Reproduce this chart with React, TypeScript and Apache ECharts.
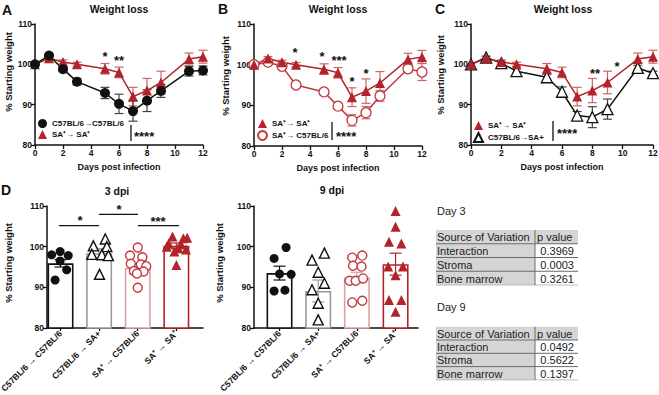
import React, { useEffect, useRef } from "react";
import * as echarts from "echarts";

// ---------- data ----------
const days = [0, 1, 2, 3, 5, 6, 7, 8, 9, 11, 12];

const b6ToB6Mean = [100, 102.2, 98.8, 95.7, 92.9, 90.2, 88.4, 91.0, 93.4, 98.3, 98.5];
const b6ToB6Err = [0, 0.3, 0.6, 0.8, 1.4, 2.4, 2.5, 2.7, 1.6, 1.2, 1.1];

const saToSaMean = [100, 101.5, 100.6, 100.0, 98.9, 98.0, 92.0, 93.5, 95.5, 101.3, 101.9];
const saToSaErr = [0, 0.5, 0.5, 0.5, 1.3, 1.3, 2.3, 3.0, 2.8, 1.5, 1.6];

const saToB6Mean = [100, 100.6, 99.6, 95.0, 93.3, 89.8, 86.3, 88.2, 92.3, 99.0, 98.2];
const saToB6Err = [0, 0.4, 0.5, 0.5, 0.5, 0.6, 1.4, 1.5, 1.3, 0.8, 2.1];

const b6ToSaMean = [100, 101.7, 100.3, 98.3, 96.8, 93.2, 87.3, 86.9, 88.9, 99.1, 97.8];
const b6ToSaErr = [0, 0.3, 0.5, 0.6, 0.7, 1.2, 1.0, 2.6, 2.5, 0.6, 0.5];

const groupLabels = ["C57BL/6 → C57BL/6", "C57BL/6 → SA+", "SA⁺ → C57BL/6", "SA⁺ → SA⁺"];

const d3Mean = [95.9, 98.4, 94.8, 100.2];
const d3Sem = [0.9, 1.1, 0.9, 0.7];
const d3B6B6 = [98.8, 98.0, 97.8, 96.5, 94.3, 91.8];
const d3B6Sa = [101.9, 100.2, 100.0, 98.1, 98.0, 97.8, 93.2];
const d3SaB6 = [99.8, 97.8, 97.4, 95.8, 95.6, 95.2, 94.0, 93.9, 93.4, 89.9];
const d3SaSa = [102.5, 102.1, 102.2, 100.8, 100.6, 100.0, 99.6, 99.3, 98.8, 95.5];

const d9Mean = [93.5, 89.1, 92.4, 95.7];
const d9Sem = [1.7, 2.7, 1.3, 2.7];
const d9B6B6 = [99.8, 97.1, 93.3, 93.2, 89.1, 89.3];
const d9B6Sa = [98.4, 96.7, 93.7, 91.0, 89.4, 86.1, 82.0];
const d9SaB6 = [97.3, 97.8, 95.3, 95.1, 91.6, 91.6, 92.2, 86.3, 86.7];
const d9SaSa = [108.8, 104.9, 101.2, 100.8, 95.1, 95.1, 93.0, 86.9, 86.9, 84.0];

// horizontal scatter offsets (category units) for the dot plots
const d3Jit = [
  [-0.01, -0.23, 0.2, -0.01, 0.16, -0.14],
  [0.16, -0.15, 0.2, -0.19, 0.07, 0.24, 0.01],
  [0.0, -0.2, 0.12, -0.18, 0.08, 0.22, -0.1, 0.15, -0.02, 0.0],
  [-0.1, 0.18, 0.28, -0.2, 0.12, -0.25, 0.05, 0.25, -0.05, 0.0],
];
const d9Jit = [
  [0.17, -0.14, 0.0, 0.3, -0.14, 0.14],
  [0.16, -0.16, 0.0, 0.16, -0.16, 0.0, 0.0],
  [-0.12, 0.14, -0.1, 0.12, -0.19, -0.03, 0.16, -0.12, 0.14],
  [0.0, 0.0, -0.17, 0.15, -0.19, 0.19, 0.0, -0.17, 0.15, 0.0],
];

const day3Table = [
  ["Interaction", "0.3969"],
  ["Stroma", "0.0003"],
  ["Bone marrow", "0.3261"],
];
const day9Table = [
  ["Interaction", "0.0492"],
  ["Stroma", "0.5622"],
  ["Bone marrow", "0.1397"],
];

// ---------- style ----------
const FF = "'Liberation Sans', Arial, Helvetica, sans-serif";
const BLACK = "#111111";
const RED = "#b3232b";
const RED_ERR = "#cf6468";
const RED_OPEN = "#c0393f";
const GRAY = "#9a9a9a";
const PINK = "#dba2a3";
const barColors = [BLACK, GRAY, PINK, RED];

const N_B6B6 = "C57BL/6→C57BL/6";
const N_SASA = "SA⁺→ SA⁺";
const N_SAB6 = "SA⁺→ C57BL/6";
const N_B6SA = "C57BL/6→SA+";

function errRender(color: string | null, cap: number) {
  return (params: any, api: any) => {
    const x = api.value(0);
    const m = api.value(1);
    const e = api.value(2);
    if (!e) return { type: "group", children: [] };
    const c = color || barColors[Math.round(x)];
    const t = api.coord([x, m + e]);
    const b = api.coord([x, m - e]);
    const st = { stroke: c, lineWidth: 1.2 };
    return {
      type: "group",
      children: [
        { type: "line", shape: { x1: t[0], y1: t[1], x2: b[0], y2: b[1] }, style: st },
        { type: "line", shape: { x1: t[0] - cap, y1: t[1], x2: t[0] + cap, y2: t[1] }, style: st },
        { type: "line", shape: { x1: b[0] - cap, y1: b[1], x2: b[0] + cap, y2: b[1] }, style: st },
      ],
    };
  };
}

const axisCommon = {
  axisLine: { show: true, onZero: false, lineStyle: { color: BLACK, width: 1.5 } },
  axisTick: { show: true, inside: false, length: 4, lineStyle: { color: BLACK, width: 1.3 } },
  axisLabel: { color: BLACK, fontSize: 8.5, fontWeight: "bold", fontFamily: FF, margin: 3 },
  splitLine: { show: false },
};

function dayAxis(gridIndex: number) {
  return {
    ...axisCommon,
    type: "value",
    gridIndex,
    min: 0,
    max: 12,
    interval: 2,
    name: "Days post infection",
    nameLocation: "middle",
    nameGap: 17,
    nameTextStyle: { color: BLACK, fontSize: 9, fontWeight: "bold", fontFamily: FF },
  };
}

function weightAxis(gridIndex: number) {
  return { ...axisCommon, type: "value", gridIndex, min: 80, max: 110, interval: 10 };
}

function groupAxis(gridIndex: number, min: number, max: number) {
  return {
    ...axisCommon,
    type: "value",
    gridIndex,
    min,
    max,
    axisTick: { ...axisCommon.axisTick, length: 3, customValues: [0, 1, 2, 3] },
    axisLabel: {
      ...axisCommon.axisLabel,
      fontSize: 8.6,
      rotate: 45,
      margin: 4,
      customValues: [0, 1, 2, 3],
      formatter: (v: number) => groupLabels[Math.round(v)] || "",
    },
  };
}

function lineSeries(name: string, idx: number, mean: number[], symbol: string, size: number, fill: string, stroke: string, lineColor: string) {
  return {
    type: "line",
    name,
    xAxisIndex: idx,
    yAxisIndex: idx,
    data: days.map((d, i) => [d, mean[i]]),
    symbol,
    symbolSize: size,
    itemStyle: { color: fill, borderColor: stroke, borderWidth: fill === "#ffffff" ? 1.3 : 0 },
    lineStyle: { color: lineColor, width: 1.5 },
    z: 3,
  };
}

function errSeries(idx: number, mean: number[], err: number[], color: string) {
  return {
    type: "custom",
    xAxisIndex: idx,
    yAxisIndex: idx,
    renderItem: errRender(color, 4.5),
    data: days.map((d, i) => [d, mean[i], err[i]]),
    encode: { x: 0, y: 1 },
    z: 2,
    silent: true,
  };
}

function dotPanel(idx: number, mean: number[], sem: number[], groups: number[][], jit: number[][]) {
  const syms = ["circle", "triangle", "circle", "triangle"];
  const fills = [BLACK, "#ffffff", "#ffffff", RED];
  const strokes = [BLACK, BLACK, RED_OPEN, RED];
  const out: any[] = [
    {
      type: "bar",
      xAxisIndex: idx,
      yAxisIndex: idx,
      barWidth: 26,
      data: mean.map((m, i) => ({
        value: [i, m],
        itemStyle: { color: "#ffffff", borderColor: barColors[i], borderWidth: 1.6 },
      })),
      z: 1,
    },
    {
      type: "custom",
      xAxisIndex: idx,
      yAxisIndex: idx,
      renderItem: errRender(null, 6),
      data: mean.map((m, i) => [i, m, sem[i]]),
      encode: { x: 0, y: 1 },
      z: 2,
    },
  ];
  groups.forEach((vals, g) => {
    out.push({
      type: "scatter",
      xAxisIndex: idx,
      yAxisIndex: idx,
      symbol: syms[g],
      symbolSize: g % 2 === 1 ? 10 : 9,
      data: vals.map((v, k) => [g + jit[g][k], v]),
      itemStyle: { color: fills[g], borderColor: strokes[g], borderWidth: fills[g] === "#ffffff" ? 1.4 : 0, opacity: 1 },
      z: 3,
    });
  });
  return out;
}

function txt(text: string, x: number, y: number, size: number, opts: any = {}) {
  return {
    type: "text",
    x,
    y,
    rotation: opts.rotation || 0,
    style: {
      text,
      fontSize: size,
      fontWeight: opts.weight || "bold",
      fontFamily: FF,
      fill: opts.color || BLACK,
      align: opts.align || "center",
      verticalAlign: "middle",
    },
    z: 10,
  };
}

function vline(x: number, y1: number, y2: number) {
  return { type: "line", shape: { x1: x, y1, x2: x, y2 }, style: { stroke: BLACK, lineWidth: 1.3 }, z: 10 };
}
function hline(x1: number, x2: number, y: number) {
  return { type: "line", shape: { x1, y1: y, x2, y2: y }, style: { stroke: BLACK, lineWidth: 1.3 }, z: 10 };
}

function tableGraphics(x0: number, top: number, rowH: number, split: number, right: number, rows: string[][]) {
  const g: any[] = [];
  const grayFill = "#d5d5d5";
  const lineC = "#6a6a6a";
  g.push({ type: "rect", shape: { x: x0, y: top, width: right - x0, height: rowH }, style: { fill: grayFill } });
  rows.forEach((_, i) => {
    g.push({ type: "rect", shape: { x: x0, y: top + rowH * (i + 1), width: split - x0, height: rowH }, style: { fill: grayFill } });
  });
  for (let i = 1; i <= rows.length + 1; i++) {
    g.push({
      type: "line",
      shape: { x1: x0, y1: top + rowH * i, x2: right, y2: top + rowH * i },
      style: { stroke: i === rows.length + 1 ? "#bbbbbb" : lineC, lineWidth: 1 },
    });
  }
  g.push({ type: "line", shape: { x1: split, y1: top, x2: split, y2: top + rowH * (rows.length + 1) }, style: { stroke: lineC, lineWidth: 1 } });
  g.push(txt("Source of Variation", x0 + 1, top + rowH / 2 + 0.5, 11, { weight: "normal", align: "left", color: "#222" }));
  g.push(txt("p value", split + 2, top + rowH / 2 + 0.5, 11, { weight: "normal", align: "left", color: "#222" }));
  rows.forEach((r, i) => {
    const y = top + rowH * (i + 1) + rowH / 2 + 0.5;
    g.push(txt(r[0], x0 + 1, y, 11, { weight: "normal", align: "left", color: "#222" }));
    g.push(txt(r[1], right - 4, y, 11, { weight: "normal", align: "right", color: "#222" }));
  });
  return g;
}

const legendText = { fontSize: 8, fontWeight: "bold", fontFamily: FF, color: BLACK };
const legendBase = {
  orient: "vertical", itemGap: 2, itemWidth: 9, itemHeight: 9, padding: 0,
  selectedMode: false, textStyle: legendText,
};

export default function App() {
  const ref = useRef<HTMLDivElement>(null);
  useEffect(() => {
    if (!ref.current) return;
    const chart = echarts.init(ref.current, null, { renderer: "svg" });
    const option: any = {
      animation: false,
      backgroundColor: "#ffffff",
      grid: [
        { left: 35, top: 24, width: 168, height: 121, outerBoundsMode: "none" },
        { left: 254, top: 24, width: 168, height: 122, outerBoundsMode: "none" },
        { left: 471, top: 24, width: 182, height: 121, outerBoundsMode: "none" },
        { left: 47, top: 206, width: 156, height: 122, outerBoundsMode: "none" },
        { left: 254, top: 206, width: 164, height: 122, outerBoundsMode: "none" },
      ],
      xAxis: [dayAxis(0), dayAxis(1), dayAxis(2), groupAxis(3, -0.35, 3.69), groupAxis(4, -0.66, 3.58)],
      yAxis: [weightAxis(0), weightAxis(1), weightAxis(2), weightAxis(3), weightAxis(4)],
      legend: [
        { ...legendBase, left: 38, top: 119, data: [{ name: N_B6B6, icon: "circle" }, { name: N_SASA, icon: "triangle" }] },
        { ...legendBase, left: 257, top: 119, data: [{ name: N_SASA, icon: "triangle" }, { name: N_SAB6, icon: "circle" }] },
        { ...legendBase, left: 473, top: 121, data: [{ name: N_SASA, icon: "triangle" }, { name: N_B6SA, icon: "triangle" }] },
      ],
      series: [
        // A
        errSeries(0, saToSaMean, saToSaErr, RED_ERR),
        errSeries(0, b6ToB6Mean, b6ToB6Err, "#444444"),
        lineSeries(N_SASA, 0, saToSaMean, "triangle", 10, RED, RED, RED),
        lineSeries(N_B6B6, 0, b6ToB6Mean, "circle", 10, BLACK, BLACK, BLACK),
        // B
        errSeries(1, saToB6Mean, saToB6Err, RED_ERR),
        errSeries(1, saToSaMean, saToSaErr, RED_ERR),
        lineSeries(N_SAB6, 1, saToB6Mean, "circle", 10, "#ffffff", RED_OPEN, RED_OPEN),
        lineSeries(N_SASA, 1, saToSaMean, "triangle", 10, RED, RED, RED),
        // C
        errSeries(2, b6ToSaMean, b6ToSaErr, "#444444"),
        errSeries(2, saToSaMean, saToSaErr, RED_ERR),
        lineSeries(N_B6SA, 2, b6ToSaMean, "triangle", 11, "#ffffff", BLACK, BLACK),
        lineSeries(N_SASA, 2, saToSaMean, "triangle", 10, RED, RED, RED),
        // D
        ...dotPanel(3, d3Mean, d3Sem, [d3B6B6, d3B6Sa, d3SaB6, d3SaSa], d3Jit),
        ...dotPanel(4, d9Mean, d9Sem, [d9B6B6, d9B6Sa, d9SaB6, d9SaSa], d9Jit),
      ],
      graphic: [
        // panel letters
        txt("A", 2, 10, 14, { align: "left" }),
        txt("B", 218, 9, 14, { align: "left" }),
        txt("C", 435, 9, 14, { align: "left" }),
        txt("D", 1, 190, 14, { align: "left" }),
        // titles
        txt("Weight loss", 119, 9, 10.5),
        txt("Weight loss", 338, 9, 10.5),
        txt("Weight loss", 563, 9, 10.5),
        txt("3 dpi", 117, 191, 10.5),
        txt("9 dpi", 332, 190, 10.5),
        // y-axis names
        txt("% Starting weight", 8, 72, 9.5, { rotation: Math.PI / 2 }),
        txt("% Starting weight", 225, 76, 9.5, { rotation: Math.PI / 2 }),
        txt("% Starting weight", 440, 75, 9.5, { rotation: Math.PI / 2 }),
        txt("% Starting weight", 8, 263, 9.5, { rotation: Math.PI / 2 }),
        txt("% Starting weight", 219, 263, 9.5, { rotation: Math.PI / 2 }),
        // A significance
        txt("*", 105, 56, 13),
        txt("**", 119, 60, 13),
        vline(131, 125, 141),
        txt("****", 134, 136, 13, { align: "left" }),
        // B significance
        txt("*", 295, 52, 13),
        txt("*", 322, 56, 13),
        txt("***", 339, 60, 13),
        txt("*", 352, 81, 13),
        txt("*", 366, 73, 13),
        vline(332, 122, 140),
        txt("****", 336, 136, 13, { align: "left" }),
        // C significance
        txt("**", 595, 73, 13),
        txt("*", 617, 66, 13),
        vline(553, 121, 141),
        txt("****", 557, 133, 13, { align: "left" }),
        // D significance
        hline(59, 99, 225.7),
        txt("*", 80, 220, 13),
        hline(99, 138, 214.3),
        txt("*", 119, 209, 13),
        hline(138, 179, 225.7),
        txt("***", 158, 221, 13),
        // tables
        txt("Day 3", 437, 211, 11, { weight: "normal", align: "left", color: "#222" }),
        ...tableGraphics(436, 230, 13.75, 535, 578, day3Table),
        txt("Day 9", 437, 307, 11, { weight: "normal", align: "left", color: "#222" }),
        ...tableGraphics(436, 326.7, 13.3, 535, 578, day9Table),
      ],
    };
    chart.setOption(option);
    return () => chart.dispose();
  }, []);
  return (
    <div
      ref={ref}
      style={{ position: "fixed", left: 0, top: 0, width: 659, height: 395, background: "#fff" }}
    />
  );
}
